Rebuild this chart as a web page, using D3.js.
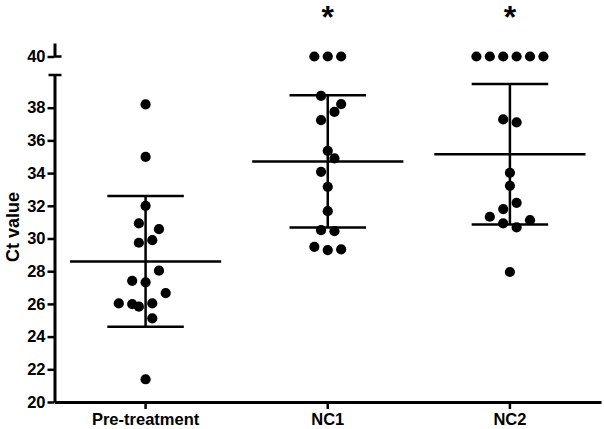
<!DOCTYPE html>
<html>
<head>
<meta charset="utf-8">
<script src="https://cdn.jsdelivr.net/npm/d3@7"></script>
<style>
  html, body { margin: 0; padding: 0; background: #fff; }
  svg { display: block; }
  text { font-family: "Liberation Sans", Arial, sans-serif; font-weight: bold; fill: #000; }
</style>
</head>
<body>
<svg id="chart" width="604" height="429"></svg>
<script>
// ---- data ----
const categories = ["Pre-treatment", "NC1", "NC2"];
const preValues = [38.2, 34.99, 32.0, 30.92, 30.57, 29.9, 29.74, 28.03, 27.41, 27.32, 26.66, 26.03, 25.99, 25.83, 26.03, 25.12, 21.39];
const preSlots  = [0, 0, 0, -1, 2, 1, -1, 2, -2, 0, 3, -4, -2, -1, 1, 1, 0];
const nc1Values = [40, 40, 40, 38.72, 38.22, 37.74, 37.24, 35.36, 34.9, 34.08, 33.16, 31.67, 30.51, 30.45, 29.49, 29.29, 29.33];
const nc1Slots  = [-2, 0, 2, -1, 2, 1, -1, 0, 1, -1, 0, 0, -1, 1, -2, 0, 2];
const nc2Values = [40, 40, 40, 40, 40, 40, 37.28, 37.1, 34.02, 33.22, 32.18, 31.8, 31.33, 31.12, 30.92, 30.68, 27.95];
const nc2Slots  = [-5, -3, -1, 1, 3, 5, -1, 1, 0, 0, 1, -1, -3, 3, -1, 1, 0];
const significance = ["", "*", "*"];
const yTicksLower = [20, 22, 24, 26, 28, 30, 32, 34, 36, 38];
const yTicksUpper = [40];
const yTitle = "Ct value";

const groups = [
  { name: categories[0], values: preValues, slots: preSlots, sig: significance[0] },
  { name: categories[1], values: nc1Values, slots: nc1Slots, sig: significance[1] },
  { name: categories[2], values: nc2Values, slots: nc2Slots, sig: significance[2] }
];

// ---- layout ----
const svg = d3.select("#chart");
const axisX = 54.5;
const baseY = 402;
const xEnd = 601;
const FONT = "Liberation Sans, Arial, sans-serif";

const x = d3.scaleBand().domain(categories).range([axisX, xEnd]);
const cx = c => x(c) + x.bandwidth() / 2;

const yLow = d3.scaleLinear().domain([20, 40]).range([baseY, 75]);
const yHigh = d3.scaleLinear().domain([40, 40.8]).range([56.5, 43]);
const y = v => (v >= 40 ? yHigh(v) : yLow(v));

const slotStep = 6.7;
const dotR = 5.1;
const meanHalf = x.bandwidth() * 0.415;
const capHalf = x.bandwidth() * 0.21;

function styleAxis(g, fs) {
  g.select(".domain").attr("stroke", "#000").attr("stroke-width", 3);
  g.selectAll(".tick line").attr("stroke", "#000").attr("stroke-width", 2.5);
  g.selectAll(".tick text").attr("font-size", fs).attr("font-family", FONT).attr("font-weight", "bold").attr("fill", "#000");
}

// ---- y axis, lower segment ----
const gyl = svg.append("g").attr("transform", `translate(${axisX},0)`)
  .call(d3.axisLeft(yLow).tickValues(yTicksLower).tickFormat(d3.format("d")).tickSize(7).tickSizeOuter(0).tickPadding(2));
styleAxis(gyl, 16.5);
svg.append("line").attr("x1", axisX - 6).attr("x2", axisX + 7)
  .attr("y1", yLow(40)).attr("y2", yLow(40)).attr("stroke", "#000").attr("stroke-width", 2.5);

// ---- y axis, upper segment ----
const gyu = svg.append("g").attr("transform", `translate(${axisX},0)`)
  .call(d3.axisLeft(yHigh).tickValues(yTicksUpper).tickFormat(d3.format("d")).tickSize(7).tickSizeOuter(0).tickPadding(2));
styleAxis(gyu, 16.5);
svg.append("line").attr("x1", axisX).attr("x2", axisX + 7)
  .attr("y1", yHigh(40)).attr("y2", yHigh(40)).attr("stroke", "#000").attr("stroke-width", 2.5);

// ---- x axis ----
const gx = svg.append("g").attr("transform", `translate(0,${baseY})`)
  .call(d3.axisBottom(x).tickSize(7).tickSizeOuter(0).tickPadding(4));
styleAxis(gx, 16.5);

// ---- y title ----
svg.append("text")
  .attr("transform", `translate(13,${yLow(30.7)}) rotate(-90)`)
  .attr("text-anchor", "middle").attr("dy", "0.35em")
  .attr("font-size", 18).text(yTitle);

// ---- groups ----
groups.forEach(g => {
  const c = cx(g.name);
  const m = d3.mean(g.values);
  const sd = d3.deviation(g.values);
  const gg = svg.append("g");
  gg.append("line").attr("x1", c).attr("x2", c).attr("y1", y(m + sd)).attr("y2", y(m - sd))
    .attr("stroke", "#000").attr("stroke-width", 2.5);
  [m + sd, m - sd].forEach(v => {
    gg.append("line").attr("x1", c - capHalf).attr("x2", c + capHalf)
      .attr("y1", y(v)).attr("y2", y(v)).attr("stroke", "#000").attr("stroke-width", 2.5);
  });
  gg.append("line").attr("x1", c - meanHalf).attr("x2", c + meanHalf)
    .attr("y1", y(m)).attr("y2", y(m)).attr("stroke", "#000").attr("stroke-width", 2.5);
  gg.selectAll("circle").data(g.values).join("circle")
    .attr("cx", (d, i) => c + g.slots[i] * slotStep)
    .attr("cy", d => y(d))
    .attr("r", dotR).attr("fill", "#000");
  if (g.sig) {
    svg.append("text").attr("x", c).attr("y", 28).attr("text-anchor", "middle")
      .attr("font-size", 32).text(g.sig);
  }
});
</script>
</body>
</html>
